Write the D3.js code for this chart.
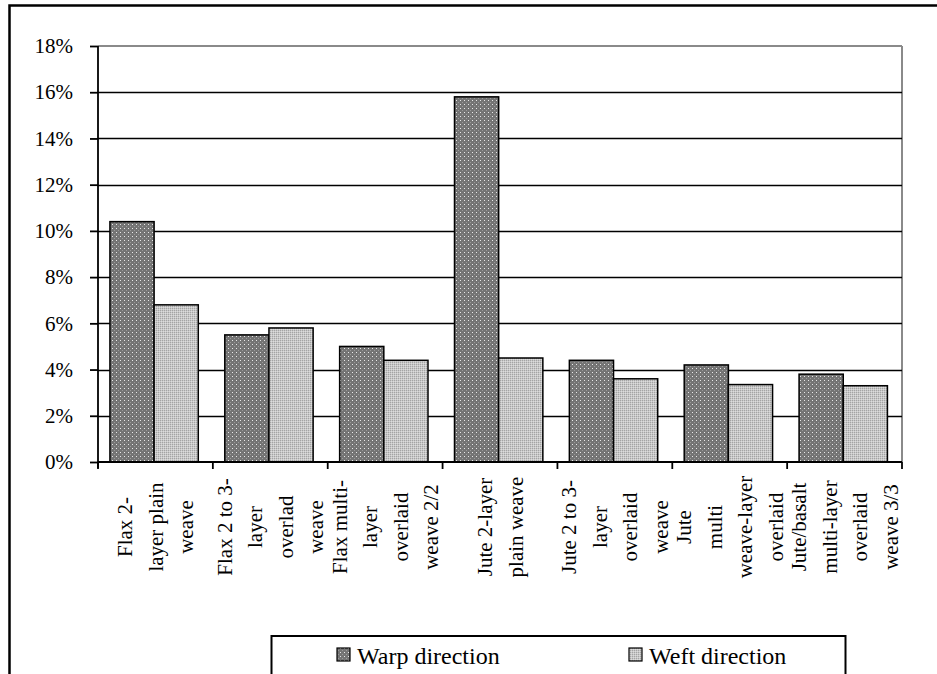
<!DOCTYPE html>
<html><head><meta charset="utf-8">
<script src="https://cdn.jsdelivr.net/npm/d3@7/dist/d3.min.js"></script>
<style>
html,body{margin:0;padding:0;background:#fff;}
svg{display:block;font-family:"Liberation Serif","Times New Roman",serif;}
</style></head>
<body>
<svg id="chart" width="937" height="674"></svg>
<script>
const categories = [
  ["Flax 2-","layer plain","weave"],
  ["Flax 2 to 3-","layer","overlad","weave"],
  ["Flax multi-","layer","overlaid","weave 2/2"],
  ["Jute 2-layer","plain weave"],
  ["Jute 2 to 3-","layer","overlaid","weave"],
  ["Jute","multi","weave-layer","overlaid"],
  ["Jute/basalt","multi-layer","overlaid","weave 3/3"]
];
const seriesNames = ["Warp direction","Weft direction"];
const warp = [0.104, 0.055, 0.050, 0.158, 0.044, 0.042, 0.038];
const weft = [0.068, 0.058, 0.044, 0.045, 0.036, 0.0335, 0.033];
const yTicks = [0,0.02,0.04,0.06,0.08,0.10,0.12,0.14,0.16,0.18];

(function(){
const svg = d3.select("#chart");
const defs = svg.append("defs");
const p1 = defs.append("pattern").attr("id","pWarp").attr("patternUnits","userSpaceOnUse").attr("width",4).attr("height",4);
p1.append("rect").attr("width",4).attr("height",4).attr("fill","#747474");
p1.append("rect").attr("x",0).attr("y",0).attr("width",1).attr("height",1).attr("fill","#e8e8e8");
p1.append("rect").attr("x",2).attr("y",2).attr("width",1).attr("height",1).attr("fill","#9a9a9a");
const p2 = defs.append("pattern").attr("id","pWeft").attr("patternUnits","userSpaceOnUse").attr("width",2).attr("height",2);
p2.append("rect").attr("width",2).attr("height",2).attr("fill","#c8c8c8");
p2.append("rect").attr("x",0).attr("y",0).attr("width",1).attr("height",1).attr("fill","#a4a4a4");
p2.append("rect").attr("x",1).attr("y",1).attr("width",1).attr("height",1).attr("fill","#dcdcdc");
const fills = ["url(#pWarp)","url(#pWeft)"];

svg.append("rect").attr("x",9.5).attr("y",5.5).attr("width",1000).attr("height",1000)
  .attr("fill","none").attr("stroke","#000").attr("stroke-width",2.5);

const pL = 98, pR = 902, pT = 46, pB = 462;
const y = d3.scaleLinear().domain([0,0.18]).range([pB, pT]);
const x = d3.scaleBand().domain(d3.range(categories.length)).range([pL,pR]).padding(0);
const xs = d3.scaleBand().domain([0,1]).range([0, x.bandwidth()]).paddingInner(0).paddingOuter(0.3).align(0.45);

svg.append("line").attr("x1",pL).attr("x2",pR).attr("y1",pT).attr("y2",pT).attr("stroke","#8a8a8a").attr("stroke-width",2);
svg.append("line").attr("x1",pR).attr("x2",pR).attr("y1",pT).attr("y2",pB).attr("stroke","#8a8a8a").attr("stroke-width",2);

svg.append("g").selectAll("line").data(yTicks.filter(d=>d>0 && d<0.18)).join("line")
  .attr("x1",pL).attr("x2",pR).attr("y1",d=>Math.round(y(d))+0.5).attr("y2",d=>Math.round(y(d))+0.5)
  .attr("stroke","#000").attr("stroke-width",1.6);

const data = categories.map((c,i)=>[warp[i], weft[i]]);
const g = svg.append("g");
data.forEach((vals,i)=>{
  vals.forEach((v,j)=>{
    g.append("rect")
      .attr("x", x(i)+xs(j))
      .attr("y", y(v))
      .attr("width", xs.bandwidth())
      .attr("height", y(0)-y(v))
      .attr("fill", fills[j])
      .attr("stroke","#000").attr("stroke-width",1.5);
  });
});

const yAxis = d3.axisLeft(y).tickValues(yTicks).tickFormat(d3.format(".0%")).tickSize(8).tickSizeOuter(0).tickPadding(17);
const ya = svg.append("g").attr("transform",`translate(${pL},0)`).call(yAxis);
ya.attr("font-family",null);
ya.selectAll("path,line").attr("stroke","#000").attr("stroke-width",1.8);
ya.selectAll("text").attr("font-size",21).attr("fill","#000").style("font-family","'Liberation Serif','Times New Roman',serif");
ya.select(".domain").attr("d",`M0,${pT}V${pB+6}`);

svg.append("line").attr("x1",pL).attr("x2",pR).attr("y1",pB).attr("y2",pB).attr("stroke","#000").attr("stroke-width",1.8);
const bounds = d3.range(categories.length+1).map(i=> i<categories.length ? x(i) : pR);
svg.append("g").selectAll("line").data(bounds).join("line")
  .attr("x1",d=>d).attr("x2",d=>d).attr("y1",pB).attr("y2",pB+7)
  .attr("stroke","#000").attr("stroke-width",1.8);

const lineGap = 30.5;
categories.forEach((lines,i)=>{
  const cx = x(i)+x.bandwidth()/2;
  lines.forEach((t,k)=>{
    const lx = cx + (k-(lines.length-1)/2)*lineGap;
    svg.append("text")
      .attr("transform",`translate(${lx},527) rotate(-90)`)
      .attr("text-anchor","middle").attr("dy","0.35em")
      .attr("font-size",21).attr("fill","#000")
      .text(t);
  });
});

svg.append("rect").attr("x",271.5).attr("y",636).attr("width",574).attr("height",100)
  .attr("fill","#fff").attr("stroke","#000").attr("stroke-width",2);
const legX = [337, 629];
seriesNames.forEach((s,j)=>{
  svg.append("rect").attr("x",legX[j]).attr("y",648).attr("width",13).attr("height",13)
    .attr("fill",fills[j]).attr("stroke","#000").attr("stroke-width",1.2);
  svg.append("text").attr("x",legX[j]+20).attr("y",664).attr("font-size",24).attr("fill","#000").text(s);
});
})();
</script>
</body></html>
